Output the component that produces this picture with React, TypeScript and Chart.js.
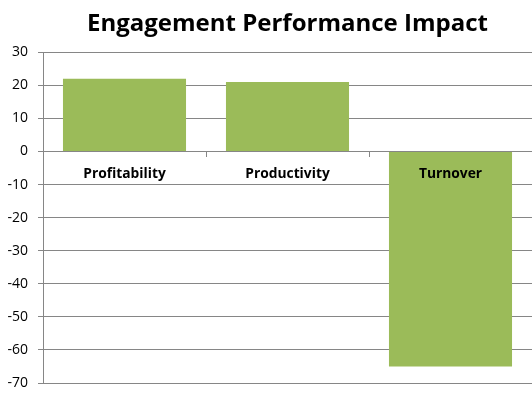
import { useEffect, useRef } from 'react';
import { Chart, registerables } from 'chart.js';

Chart.register(...registerables);

const categories = ['Profitability', 'Productivity', 'Turnover'];
const impactValues = [22, 21, -65];
const yTicks = [30, 20, 10, 0, -10, -20, -30, -40, -50, -60, -70];

const GRAY = '#868686';

export default function App() {
  const ref = useRef<HTMLCanvasElement>(null);

  useEffect(() => {
    document.body.style.margin = '0';
    const yMin = Math.min(...yTicks);
    const yMax = Math.max(...yTicks);
    const chart = new Chart(ref.current as HTMLCanvasElement, {
      type: 'bar',
      data: {
        labels: categories,
        datasets: [
          {
            data: impactValues,
            backgroundColor: '#9BBB59',
            borderWidth: 0,
            barPercentage: 0.755,
            categoryPercentage: 1,
          },
        ],
      },
      options: {
        animation: false,
        responsive: false,
        layout: { padding: { left: 0, right: 0, top: 0, bottom: 0 } },
        plugins: {
          legend: { display: false },
          tooltip: { enabled: false },
          title: {
            display: true,
            text: 'Engagement Performance Impact',
            fullSize: false,
            color: '#000',
            font: { family: 'Open Sans', size: 24, weight: 'bold' },
            padding: { top: 10, bottom: 13.5 },
          },
        },
        scales: {
          x: {
            position: { y: 0 } as any,
            grid: { drawOnChartArea: false, tickLength: 5, color: GRAY, offset: true },
            border: { display: false },
            ticks: {
              z: 1,
              color: '#000',
              font: { family: 'Open Sans', size: 13.8, weight: 'bold' },
              padding: 9,
            },
          },
          y: {
            min: yMin,
            max: yMax,
            ticks: {
              stepSize: 10,
              color: '#000',
              font: { family: 'Open Sans', size: 14 },
              padding: 10,
            },
            grid: { color: GRAY, tickLength: 5 },
            border: { color: GRAY },
            afterFit: (s: any) => {
              s.width = 43;
              s.paddingTop = 0;
              s.paddingBottom = 11;
            },
          },
        },
      },
    });
    return () => chart.destroy();
  }, []);

  return <canvas ref={ref} width={532} height={394} style={{ display: 'block' }} />;
}
